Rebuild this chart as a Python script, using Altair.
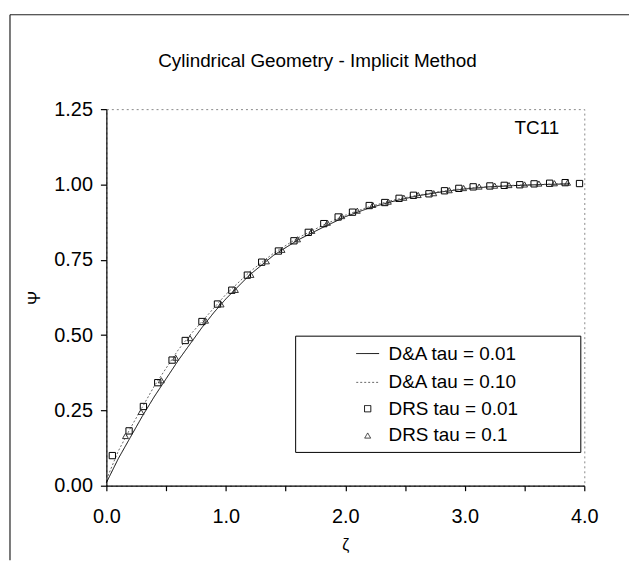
import altair as alt
import pandas as pd

FONT = "Liberation Sans"

# ---- data ----
series_names = ["D&A tau = 0.01", "D&A tau = 0.10", "DRS tau = 0.01", "DRS tau = 0.1"]

zeta_line = [0.0, 0.1, 0.2, 0.3, 0.4, 0.5, 0.6, 0.7, 0.8, 0.9, 1.0, 1.2, 1.4, 1.6,
             1.8, 2.0, 2.2, 2.4, 2.6, 2.8, 3.0, 3.2, 3.4, 3.6, 3.87]
psi_da_001 = [0.01, 0.09, 0.16, 0.23, 0.295, 0.355, 0.415, 0.47, 0.525, 0.575, 0.62, 0.70,
              0.765, 0.815, 0.855, 0.893, 0.922, 0.944, 0.962, 0.975, 0.985, 0.992, 0.996,
              0.999, 1.002]
psi_da_010 = [0.02, 0.115, 0.19, 0.26, 0.33, 0.39, 0.45, 0.50, 0.545, 0.59, 0.635, 0.71,
              0.772, 0.822, 0.862, 0.898, 0.926, 0.948, 0.964, 0.977, 0.987, 0.993, 0.997,
              1.0, 1.003]

zeta_drs_001 = [0.05, 0.19, 0.31, 0.43, 0.55, 0.66, 0.80, 0.93, 1.05, 1.18, 1.30, 1.44,
                1.57, 1.69, 1.82, 1.94, 2.06, 2.20, 2.33, 2.45, 2.57, 2.70, 2.83, 2.95,
                3.07, 3.21, 3.33, 3.46, 3.58, 3.71, 3.84, 3.96]
psi_drs_001 = [0.10, 0.182, 0.263, 0.342, 0.417, 0.482, 0.545, 0.603, 0.649, 0.699, 0.742,
               0.779, 0.813, 0.841, 0.870, 0.892, 0.908, 0.930, 0.940, 0.954, 0.964, 0.969,
               0.979, 0.987, 0.992, 0.995, 0.997, 0.999, 1.002, 1.004, 1.006, 1.003]

zeta_drs_01 = [0.16, 0.29, 0.46, 0.58, 0.70, 0.83, 0.96, 1.08, 1.21, 1.34, 1.47, 1.60,
               1.72, 1.85, 1.97, 2.10, 2.23, 2.36, 2.49, 2.61, 2.74, 2.87, 2.99, 3.12,
               3.25, 3.37, 3.50, 3.62, 3.75, 3.86]
psi_drs_01 = [0.165, 0.245, 0.350, 0.425, 0.490, 0.548, 0.602, 0.650, 0.700, 0.745, 0.783,
              0.818, 0.846, 0.873, 0.895, 0.913, 0.932, 0.943, 0.956, 0.965, 0.971, 0.981,
              0.988, 0.993, 0.996, 0.998, 1.000, 1.003, 1.004, 1.006]

tc_label = ["TC11"]
tc_x = [3.79]
tc_y = [1.188]

# ---- tables ----
lines_df = pd.concat([
    pd.DataFrame({"zeta": zeta_line, "psi": psi_da_001, "series": series_names[0]}),
    pd.DataFrame({"zeta": zeta_line, "psi": psi_da_010, "series": series_names[1]}),
])
pts_df = pd.concat([
    pd.DataFrame({"zeta": zeta_drs_001, "psi": psi_drs_001, "series": series_names[2]}),
    pd.DataFrame({"zeta": zeta_drs_01, "psi": psi_drs_01, "series": series_names[3]}),
])
tc_df = pd.DataFrame({"zeta": tc_x, "psi": tc_y, "label": tc_label})

dom = series_names
color_scale = alt.Scale(domain=dom, range=["#000000", "#666666", "#000000", "#333333"])
dash_scale = alt.Scale(domain=dom, range=[[1, 0], [2, 2], [1, 0], [1, 0]])
shape_scale = alt.Scale(domain=dom, range=["stroke", "stroke", "square", "triangle-up"])
size_scale = alt.Scale(type="ordinal", domain=dom, range=[529, 529, 40, 36])

LEG = alt.Legend(title=None, labelLimit=400,
                 labelExpr="datum.label + '\u2800\u2800\u2800\u2800'")

x_enc = alt.X(
    "zeta:Q",
    scale=alt.Scale(domain=[0, 4], nice=False, zero=False),
    axis=alt.Axis(
        values=[i * 0.25 for i in range(17)],
        labelExpr="datum.value % 1 == 0 ? format(datum.value, '.1f') : ''",
        title="ζ", titleFontSize=16, titleFontWeight="normal", titlePadding=10,
        labelPadding=16, tickSize=5, labelFlush=False,
    ),
)
y_enc = alt.Y(
    "psi:Q",
    scale=alt.Scale(domain=[0, 1.25], nice=False, zero=False),
    axis=alt.Axis(
        values=[i * 0.125 for i in range(11)],
        labelExpr="datum.value % 0.25 == 0 ? format(datum.value, '.2f') : ''",
        title="Ψ", titleFontSize=17, titleFontWeight="normal", titlePadding=10,
        labelPadding=8, tickSize=6, labelFlush=False,
    ),
)

lines = alt.Chart(lines_df).mark_line(strokeWidth=1).encode(
    x=x_enc, y=y_enc,
    color=alt.Color("series:N", scale=color_scale, legend=LEG),
    strokeDash=alt.StrokeDash("series:N", scale=dash_scale, legend=LEG),
    detail="series:N",
    order="zeta:Q",
)

points = alt.Chart(pts_df).mark_point(filled=False, strokeWidth=1, opacity=1).encode(
    x=x_enc, y=y_enc,
    color=alt.Color("series:N", scale=color_scale, legend=LEG),
    shape=alt.Shape("series:N", scale=shape_scale, legend=LEG),
    size=alt.Size("series:N", scale=size_scale, legend=LEG),
)

tc = alt.Chart(tc_df).mark_text(align="right", baseline="middle", fontSize=19, font=FONT,
                                color="black").encode(
    x="zeta:Q", y="psi:Q", text="label:N"
)

frame_data = pd.DataFrame({"k": [0]})
frame_left = alt.Chart(frame_data).mark_rule(color="#222", strokeWidth=1.2).encode(
    x=alt.value(-97), y=alt.value(-95), y2=alt.value(454)
)
frame_top = alt.Chart(frame_data).mark_rule(color="#222", strokeWidth=1.2).encode(
    x=alt.value(-97), x2=alt.value(530), y=alt.value(-95)
)

chart = alt.layer(frame_left, frame_top, lines, points, tc).properties(
    width=481, height=379,
    title=alt.Title("Cylindrical Geometry - Implicit Method", fontSize=19, fontWeight="normal",
                    font=FONT, color="black", anchor="middle", dx=-28, offset=-57),
    autosize=alt.AutoSizeParams(type="none"),
    padding={"left": 99, "top": 100, "right": 45, "bottom": 75},
).configure(
    font=FONT,
).configure_view(
    stroke="#888888", strokeDash=[2, 3], strokeWidth=1,
).configure_axis(
    grid=False, domainColor="black", tickColor="black", labelColor="black",
    titleColor="black", labelFont=FONT, titleFont=FONT, labelFontSize=20,
    domainWidth=1.2, tickWidth=1.2,
).configure_legend(
    orient="none", legendX=190, legendY=228, strokeColor="black", fillColor="white",
    padding=6, symbolOffset=55, rowPadding=7, labelFontSize=19, labelFont=FONT,
    labelColor="black", labelOffset=9, symbolStrokeWidth=1,
)

chart.save("out.html", embed_options={"renderer": "svg", "actions": False})
